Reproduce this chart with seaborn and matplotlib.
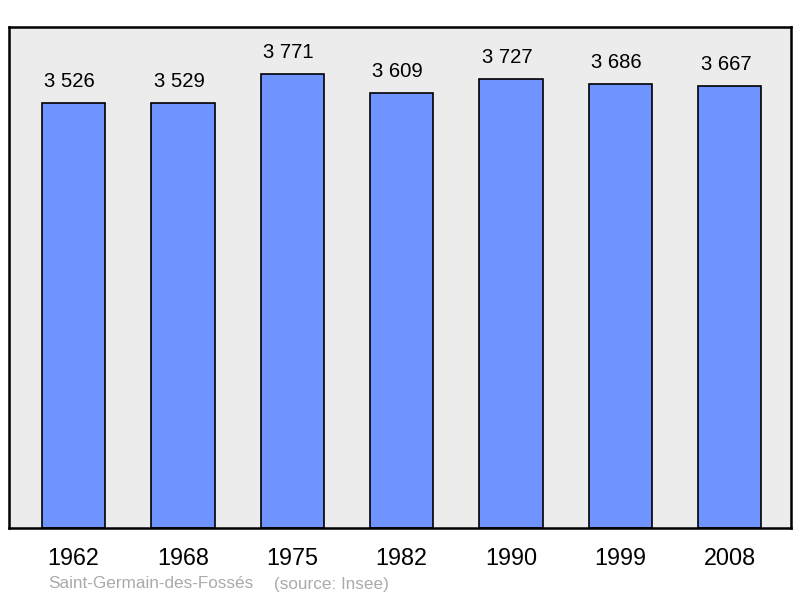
import matplotlib
matplotlib.use("Agg")
import matplotlib.pyplot as plt
import seaborn as sns
import pandas as pd

# Données
annees = ["1962", "1968", "1975", "1982", "1990", "1999", "2008"]
population = [3526, 3529, 3771, 3609, 3727, 3686, 3667]
commune = "Saint-Germain-des-Fossés"
source = "(source: Insee)"

df = pd.DataFrame({"annee": annees, "pop": population})

sns.set_style("white")
plt.rcParams["font.family"] = ["Liberation Sans", "DejaVu Sans"]

fig = plt.figure(figsize=(8, 5.98), dpi=100)
ax = fig.add_axes([9 / 800, 1 - 528 / 598, 782 / 800, 501 / 598])

sns.barplot(data=df, x="annee", y="pop", color="#7094ff", saturation=1,
            width=0.58, edgecolor="black", linewidth=1.2, ax=ax)

ax.set_facecolor("#ececec")
ax.set_xlim(-0.59, 6.56)
ax.set_ylim(0, 4157)
ax.set_xlabel("")
ax.set_ylabel("")
ax.set_yticks([])
ax.tick_params(axis="x", length=0, pad=13.5, labelsize=16.8, colors="black")
for s in ax.spines.values():
    s.set_visible(True)
    s.set_color("black")
    s.set_linewidth(1.8)

# étiquettes des valeurs (légèrement décalées à gauche comme l'original)
for i, v in enumerate(population):
    txt = f"{v:,}".replace(",", " ")
    ax.annotate(txt, (i, v), xytext=(-2.8, 8.5), textcoords="offset points",
                ha="center", va="bottom", fontsize=14.6, color="black")

fig.text(48 / 800, 1 - 584 / 598, commune, color="#aaaaaa", fontsize=12.3,
         va="center", ha="left")
fig.text(274 / 800, 1 - 584 / 598, source, color="#aaaaaa", fontsize=12.3,
         va="center", ha="left")

fig.savefig("out.png", dpi=100)
